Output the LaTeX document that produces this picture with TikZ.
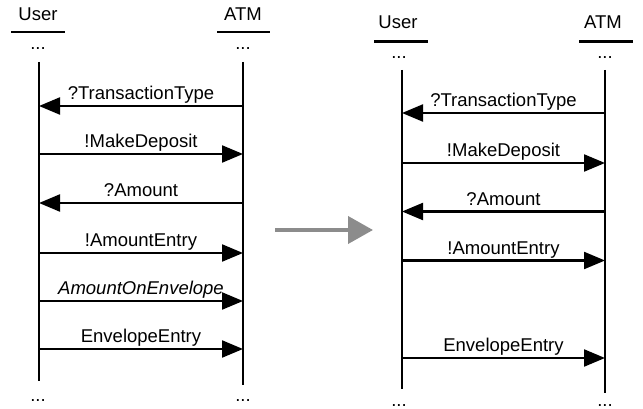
\documentclass[tikz,border=0pt]{standalone}
\usepackage{fontspec}
\setmainfont{Liberation Sans}
\usetikzlibrary{arrows.meta}

\begin{document}
\begin{tikzpicture}[x=1pt, y=-1pt,
    txt/.style={font=\fontsize{18.5}{20}\selectfont, inner sep=0pt, anchor=base},
    life/.style={line width=2.6pt},
    msg/.style={line width=2.2pt, -{Triangle[length=21pt,width=17pt]}},
    lbl/.style={font=\fontsize{18.5}{20}\selectfont, above=5pt, inner sep=0pt, text depth=0pt}]
  \definecolor{arrowgray}{RGB}{140,140,140}
  \useasboundingbox (0,0) rectangle (643,409);

  % before
  \node[txt] (user1) at (38,21) {User};
  \node[txt] (atm1) at (243,21) {ATM};
  \draw[life] (11,32) -- (65,32);
  \draw[life] (217,32) -- (270,32);
  \node[txt] (udots1) at (38,50) {...};
  \node[txt] (adots1) at (243,50) {...};
  \coordinate (utop1) at (39,62);
  \coordinate (ubot1) at (39,381);
  \coordinate (atop1) at (243,62);
  \coordinate (abot1) at (243,385);
  \draw[life] (utop1) -- (ubot1);
  \draw[life] (atop1) -- (abot1);
  \node[txt] (uend1) at (38,401) {...};
  \node[txt] (aend1) at (243,401) {...};

  \coordinate (u1a) at (39,106);  \coordinate (a1a) at (243,106);
  \coordinate (u1b) at (39,154);  \coordinate (a1b) at (243,154);
  \coordinate (u1c) at (39,203);  \coordinate (a1c) at (243,203);
  \coordinate (u1d) at (39,253);  \coordinate (a1d) at (243,253);
  \coordinate (u1e) at (39,301);  \coordinate (a1e) at (243,301);
  \coordinate (u1f) at (39,349);  \coordinate (a1f) at (243,349);
  \draw[msg] (a1a) -- node[lbl] {?TransactionType} (u1a);
  \draw[msg] (u1b) -- node[lbl] {!MakeDeposit} (a1b);
  \draw[msg] (a1c) -- node[lbl] {?Amount} (u1c);
  \draw[msg] (u1d) -- node[lbl] {!AmountEntry} (a1d);
  \draw[msg] (u1e) -- node[lbl] {\itshape AmountOnEnvelope} (a1e);
  \draw[msg] (u1f) -- node[lbl] {EnvelopeEntry} (a1f);

  % arrow in between
  \coordinate (gfrom) at (275,230);
  \coordinate (gto) at (373,230);
  \draw[arrowgray, line width=4pt, -{Triangle[length=25pt,width=27pt]}] (gfrom) -- (gto);

  % after
  \node[txt] (user2) at (398,29) {User};
  \node[txt] (atm2) at (603,29) {ATM};
  \draw[life] (374,41.5) -- (428,41.5);
  \draw[life] (579,41.5) -- (633,41.5);
  \node[txt] (udots2) at (399,59) {...};
  \node[txt] (adots2) at (605,59) {...};
  \coordinate (utop2) at (402,70);
  \coordinate (ubot2) at (402,389);
  \coordinate (atop2) at (605,70);
  \coordinate (abot2) at (605,393);
  \draw[life] (utop2) -- (ubot2);
  \draw[life] (atop2) -- (abot2);
  \node[txt] (uend2) at (399,406) {...};
  \node[txt] (aend2) at (605,406) {...};

  \coordinate (u2a) at (402,113);    \coordinate (a2a) at (605,113);
  \coordinate (u2b) at (402,163);    \coordinate (a2b) at (605,163);
  \coordinate (u2c) at (402,211.5);  \coordinate (a2c) at (605,211.5);
  \coordinate (u2d) at (402,260.5);  \coordinate (a2d) at (605,260.5);
  \coordinate (u2f) at (402,358);    \coordinate (a2f) at (605,358);
  \draw[msg] (a2a) -- node[lbl] {?TransactionType} (u2a);
  \draw[msg] (u2b) -- node[lbl] {!MakeDeposit} (a2b);
  \draw[msg] (a2c) -- node[lbl] {?Amount} (u2c);
  \draw[msg] (u2d) -- node[lbl] {!AmountEntry} (a2d);
  \draw[msg] (u2f) -- node[lbl] {EnvelopeEntry} (a2f);
\end{tikzpicture}
\end{document}
